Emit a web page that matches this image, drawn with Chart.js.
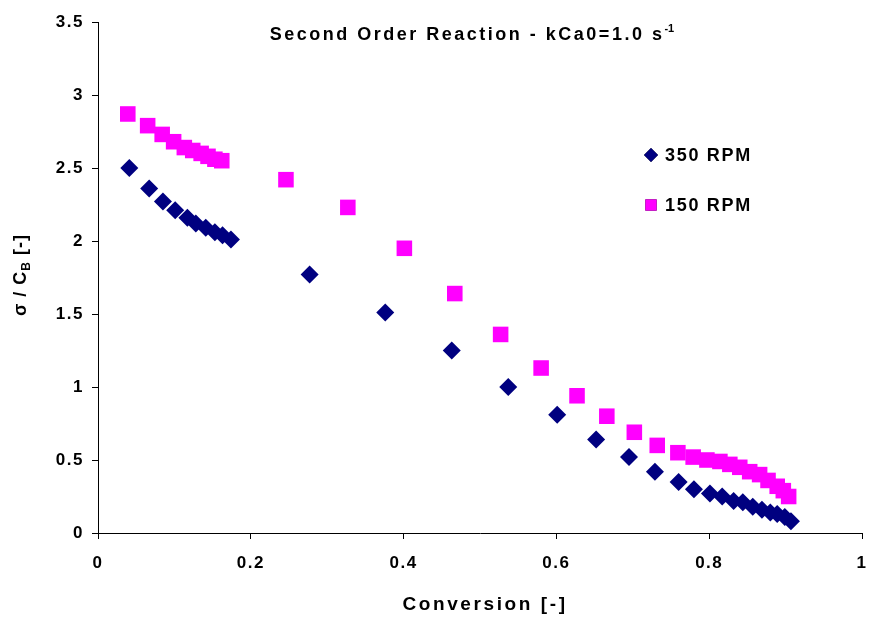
<!DOCTYPE html>
<html>
<head>
<meta charset="utf-8">
<script src="https://cdn.jsdelivr.net/npm/chart.js@4/dist/chart.umd.min.js"></script>
<style>
  html, body { margin: 0; padding: 0; background: #fff; }
  #wrap { width: 869px; height: 618px; }
</style>
</head>
<body>
<div id="wrap"><canvas id="grafico"></canvas></div>
<script>
// dados
var conv350 = [0.041, 0.067, 0.085, 0.101, 0.117, 0.128, 0.141, 0.153, 0.163, 0.174,
  0.277, 0.376, 0.463, 0.537, 0.601, 0.652, 0.695, 0.729, 0.760,
  0.780, 0.801, 0.817, 0.832, 0.844, 0.857, 0.869, 0.880, 0.889, 0.899, 0.907]
var sigma350 = [2.50, 2.36, 2.27, 2.21, 2.16, 2.12, 2.09, 2.06, 2.04, 2.01,
  1.77, 1.51, 1.25, 1.00, 0.81, 0.64, 0.52, 0.42, 0.35,
  0.30, 0.27, 0.25, 0.22, 0.21, 0.18, 0.16, 0.14, 0.13, 0.11, 0.08]
var conv150 = [0.039, 0.065, 0.084, 0.099, 0.113, 0.124, 0.135, 0.144, 0.153, 0.162,
  0.246, 0.327, 0.401, 0.467, 0.527, 0.580, 0.627, 0.666, 0.702, 0.732, 0.759,
  0.779, 0.797, 0.814, 0.827, 0.840, 0.853, 0.866, 0.877, 0.889, 0.897, 0.904]
var sigma150 = [2.87, 2.79, 2.73, 2.68, 2.64, 2.62, 2.60, 2.58, 2.56, 2.55,
  2.42, 2.23, 1.95, 1.64, 1.36, 1.13, 0.94, 0.80, 0.69, 0.60, 0.55,
  0.52, 0.50, 0.49, 0.47, 0.45, 0.42, 0.40, 0.36, 0.32, 0.29, 0.25]
var serieNomes = ["350 RPM", "150 RPM"]
var xTicks = [0, 0.2, 0.4, 0.6, 0.8, 1]
var yTicks = [0, 0.5, 1, 1.5, 2, 2.5, 3, 3.5]

var fonte = "'Liberation Sans', Arial, sans-serif"

function pares(xs, ys){
  return xs.map(function(v, i){ return {x: v, y: ys[i]} })
}

// escreve com fonte e espacamento (measureText ja conta o espacamento)
function escreve(ctx, txt, x, y, tam, esp){
  ctx.font = "bold " + tam + "px " + fonte
  ctx.letterSpacing = esp + "px"
  ctx.fillText(txt, x, y)
}
function mede(ctx, txt, tam, esp){
  ctx.font = "bold " + tam + "px " + fonte
  ctx.letterSpacing = esp + "px"
  return ctx.measureText(txt).width
}

// espacamento das letras dos ticks (o canvas perde isso quando redimensiona)
// e borda direita da area do grafico
var espaco = {
  id: "espaco",
  beforeUpdate: function(chart){ chart.ctx.letterSpacing = "1.5px" },
  beforeDraw: function(chart){ chart.ctx.letterSpacing = "1.5px" },
  afterLayout: function(chart){
    var a = chart.chartArea, x = chart.scales.x
    a.right = 862
    a.width = a.right - a.left
    x.right = 862
    x.width = x.right - x.left
    x.configure()
  }
}

// titulo, legenda e titulos dos eixos (com subscrito/sobrescrito)
var extras = {
  id: "extras",
  afterDraw: function(chart){
    var ctx = chart.ctx
    var area = chart.chartArea
    ctx.save()
    ctx.fillStyle = "#000"
    ctx.textBaseline = "middle"
    ctx.textAlign = "left"

    // titulo
    var t1 = "Second Order Reaction - kCa0=1.0 s"
    var w1 = mede(ctx, t1, 18, 2.5)
    var w2 = mede(ctx, "-1", 11, 0)
    var x0 = 472 - (w1 + w2) / 2
    escreve(ctx, t1, x0, area.top + 13, 18, 2.5)
    escreve(ctx, "-1", x0 + w1, area.top + 7, 11, 0)

    // legenda
    var ds = chart.data.datasets
    var ly = [155, 205]
    ds.forEach(function(d, i){
      Chart.helpers.drawPoint(ctx, {
        pointStyle: d.pointStyle,
        radius: i == 0 ? 7 : 8,
        borderWidth: 0
      }, 651, ly[i])
      ctx.fillStyle = d.backgroundColor
      ctx.fill()
      ctx.fillStyle = "#000"
      escreve(ctx, d.label, 665, ly[i] + 1, 18, 1.7)
    })

    // titulo do eixo X
    var tx = "Conversion [-]"
    escreve(ctx, tx, 485 - mede(ctx, tx, 19, 2.6) / 2, 605, 19, 2.6)

    // titulo do eixo Y
    ctx.translate(21, 275)
    ctx.rotate(-Math.PI / 2)
    var a = "\u03c3 / C", b = "B", c = " [-]"
    var wa = mede(ctx, a, 18, 1)
    var wb = mede(ctx, b, 12, 1)
    var wc = mede(ctx, c, 18, 1)
    var sx = -(wa + wb + wc) / 2
    escreve(ctx, a, sx, 0, 18, 1)
    escreve(ctx, b, sx + wa, 6, 12, 1)
    escreve(ctx, c, sx + wa + wb, 0, 18, 1)
    ctx.restore()
  }
}

new Chart(document.getElementById("grafico"), {
  type: "scatter",
  data: {
    datasets: [{
      label: serieNomes[0],
      data: pares(conv350, sigma350),
      pointStyle: "rectRot",
      pointRadius: 9,
      pointHoverRadius: 9,
      backgroundColor: "#000080",
      borderColor: "#000080",
      borderWidth: 0
    }, {
      label: serieNomes[1],
      data: pares(conv150, sigma150),
      pointStyle: "rect",
      pointRadius: 11,
      pointHoverRadius: 11,
      backgroundColor: "#ff00ff",
      borderColor: "#ff00ff",
      borderWidth: 0
    }]
  },
  options: {
    responsive: true,
    maintainAspectRatio: false,
    animation: false,
    layout: { padding: { left: 0, right: 7, top: 22, bottom: 0 } },
    plugins: {
      legend: { display: false },
      title: { display: false },
      tooltip: { enabled: false }
    },
    scales: {
      x: {
        type: "linear",
        min: 0, max: 1,
        afterBuildTicks: function(s){ s.ticks = xTicks.map(function(v){ return {value: v} }) },
        afterFit: function(s){ s.height = 85 },
        border: { color: "#000", width: 1 },
        grid: { drawOnChartArea: false, drawTicks: true, tickLength: 6, color: "#000" },
        ticks: {
          color: "#000", padding: 14,
          font: { family: fonte, size: 17, weight: "bold" },
          maxRotation: 0,
          callback: function(v){ return String(v) }
        }
      },
      y: {
        type: "linear",
        min: 0, max: 3.5,
        afterBuildTicks: function(s){ s.ticks = yTicks.map(function(v){ return {value: v} }) },
        afterFit: function(s){ s.width = 98 },
        border: { color: "#000", width: 1 },
        grid: { drawOnChartArea: false, drawTicks: true, tickLength: 6, color: "#000" },
        ticks: {
          color: "#000", padding: 8,
          font: { family: fonte, size: 17, weight: "bold" },
          callback: function(v){ return String(v) }
        }
      }
    }
  },
  plugins: [espaco, extras]
})
</script>
</body>
</html>
